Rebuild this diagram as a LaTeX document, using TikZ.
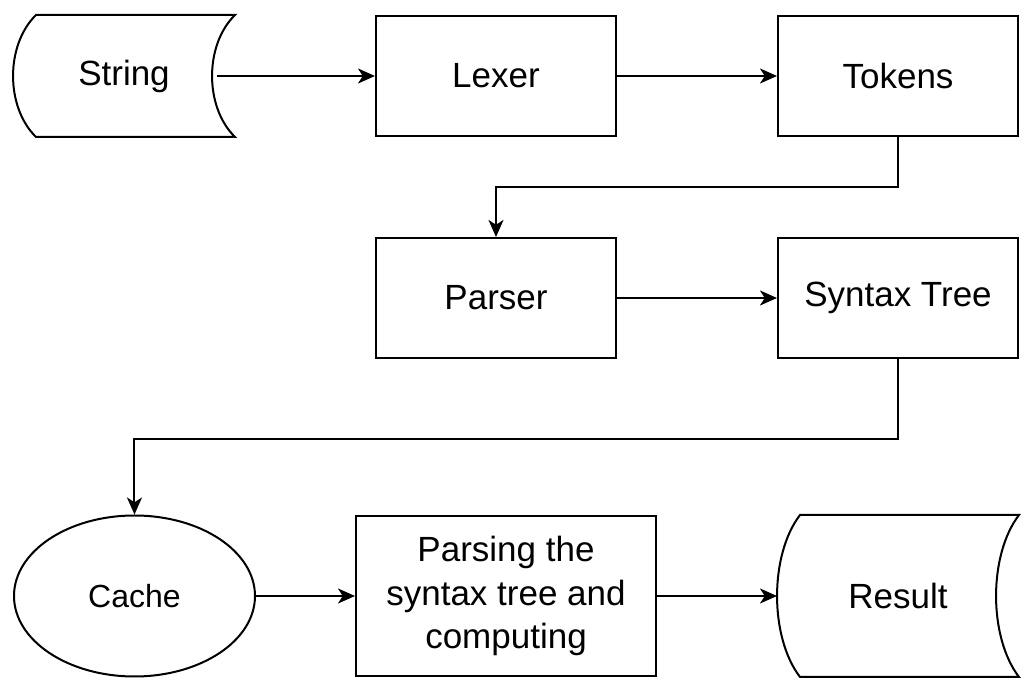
\documentclass[tikz,border=0pt]{standalone}
\usepackage{fontspec}
\setmainfont{Liberation Sans}
\usetikzlibrary{shapes.geometric, arrows.meta, positioning, calc}

% stored-data outline (bulging left side, hollow right side) around a node
\newcommand{\drawstore}[2]{%
  \draw ($(#1.north west)+(11.5pt,0)$) -- (#1.north east)
    .. controls ($(#1.north east)+(-15.3pt,-#2)$) and ($(#1.south east)+(-15.3pt,#2)$) .. (#1.south east)
    -- ($(#1.south west)+(11.5pt,0)$)
    .. controls ($(#1.south west)+(-3.8pt,#2)$) and ($(#1.north west)+(-3.8pt,-#2)$) .. cycle;}

\begin{document}
\begin{tikzpicture}[
  font=\fontsize{17.5}{21.75}\selectfont,
  line width=1pt,
  >={Stealth[length=8.5pt, width=7.5pt, inset=2.4pt]},
  node distance=50pt and 80pt,
  box/.style  ={draw, align=center, inner sep=2pt, minimum width=120pt, minimum height=60pt},
  wide/.style ={draw, align=center, inner sep=2pt, minimum width=150pt, minimum height=80pt},
  store/.style={align=center, inner sep=0pt, minimum width=110pt, minimum height=60pt},
  db/.style   ={ellipse, draw, inner sep=0pt, minimum width=120.5pt, minimum height=80.5pt, font=\fontsize{16}{19}\selectfont},
]

% ---------- first row: input and lexing ----------
\node[box] (lex) {Lexer};
\node[box, right=of lex] (tok) {Tokens};
\node[store, left=70pt of lex] (str) {String};
\useasboundingbox ($(lex.center)+(-248pt,38pt)$) rectangle ($(lex.center)+(269pt,-309pt)$);
\drawstore{str}{15pt}

% ---------- second row: parsing ----------
\node[box, below=of lex] (par) {Parser};
\node[box, right=of par] (syn) {Syntax Tree};

% ---------- third row: evaluation ----------
\node[wide, below=78pt of par, xshift=5pt] (comp) {Parsing the\\syntax tree and\\computing};
\node[db, left=49.5pt of comp] (cache) {Cache};
\node[store, right=60pt of comp, minimum width=120pt, minimum height=80pt] (res) {Result};
\drawstore{res}{20pt}

% connectors
\draw[->] ($(str.east)+(-9pt,0)$) -- (lex);
\draw[->] (lex) -- (tok);
\draw[->] (tok.south) -- ++(0,-25pt) -| (par.north);
\draw[->] (par) -- (syn);
\draw[->] (syn.south) -- ++(0,-40pt) -| (cache.north);
\draw[->] (cache) -- (comp);
\draw[->] (comp) -- (res.west);

\end{tikzpicture}
\end{document}
